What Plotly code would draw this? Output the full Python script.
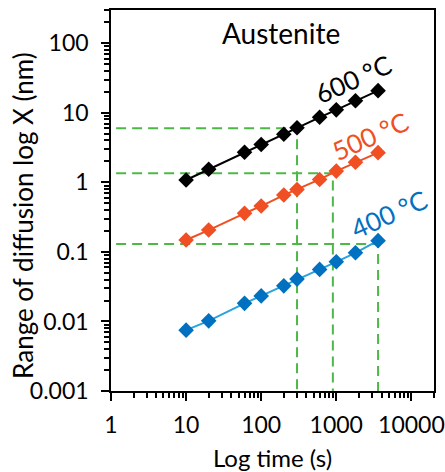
import math
import plotly.graph_objects as go

time_s = [10, 20, 60, 100, 200, 300, 600, 1000, 1800, 3600]
x600 = [1.08, 1.54, 2.7, 3.5, 4.9, 6.1, 8.6, 11.0, 14.9, 20.8]
x500 = [0.148, 0.206, 0.358, 0.456, 0.656, 0.79, 1.10, 1.45, 1.94, 2.67]
x400 = [0.0075, 0.0102, 0.0182, 0.0233, 0.0325, 0.0406, 0.056, 0.072, 0.097, 0.145]

# guide lines (time, range)
guide_times = [300, 900, 3600]
guide_values = [6.0, 1.35, 0.13]
guide_x_start = 1.17
y_bottom = 0.001

y_tickvals = [0.001, 0.01, 0.1, 1, 10, 100]
y_ticktext = ["0.001", "0.01", "0.1", "1", "10", "100"]
x_tickvals = [1, 10, 100, 1000, 10000]
x_ticktext = ["1", "10", "100", "1000", "10000"]

FONT = "Lato"
GREEN = "#4DB848"

fig = go.Figure()

# green dashed guides
for t, v in zip(guide_times, guide_values):
    fig.add_trace(go.Scatter(x=[guide_x_start, t, t], y=[v, v, y_bottom], mode="lines",
                             line=dict(color=GREEN, width=2, dash="10px,6px"),
                             showlegend=False, hoverinfo="skip"))

series = [
    (x600, "black", "black"),
    (x500, "#F04E23", "#F04E23"),
    (x400, "#29A3DD", "#0070C0"),
]
for vals, lc, mc in series:
    fig.add_trace(go.Scatter(x=time_s, y=vals, mode="lines+markers",
                             line=dict(color=lc, width=2),
                             marker=dict(symbol="diamond", size=12, color=mc),
                             showlegend=False))

fig.add_annotation(x=math.log10(186), y=math.log10(140), text="Austenite", showarrow=False,
                   font=dict(family=FONT, size=28, color="black"))
fig.add_annotation(x=3.22, y=1.49, text="600 °C", showarrow=False, textangle=-24,
                   font=dict(family=FONT, size=26, color="black"))
fig.add_annotation(x=3.45, y=0.67, text="500 °C", showarrow=False, textangle=-24,
                   font=dict(family=FONT, size=26, color="#F04E23"))
fig.add_annotation(x=3.70, y=-0.46, text="400 °C", showarrow=False, textangle=-24,
                   font=dict(family=FONT, size=26, color="#0070C0"))
# y-axis title
fig.add_annotation(xref="paper", yref="paper", x=-0.272, y=0.46, xanchor="center", yanchor="middle",
                   text="Range of diffusion log X (nm)",
                   showarrow=False, textangle=-90, font=dict(family=FONT, size=26, color="black"))

fig.update_xaxes(type="log", range=[0, math.log10(20000)], showline=True, linecolor="black",
                 linewidth=1.5, mirror=True, showgrid=False, zeroline=False, automargin=False,
                 ticks="outside", ticklen=8, tickwidth=1.5, tickcolor="black",
                 tickmode="array", tickvals=x_tickvals, ticktext=x_ticktext,
                 minor=dict(ticks="outside", ticklen=5, tickwidth=1.5, tickcolor="black", dtick="D1", showgrid=False),
                 tickfont=dict(family=FONT, size=23, color="black"), ticklabelstandoff=5,
                 title=dict(text="Log time (s)", font=dict(family=FONT, size=24, color="black"), standoff=14))
fig.update_yaxes(type="log", range=[-3, math.log10(300)], showline=True, linecolor="black",
                 linewidth=1.5, mirror=True, showgrid=False, zeroline=False, automargin=False,
                 ticks="outside", ticklen=8, tickwidth=1.5, tickcolor="black",
                 tickmode="array", tickvals=y_tickvals, ticktext=y_ticktext,
                 minor=dict(ticks="outside", ticklen=5, tickwidth=1.5, tickcolor="black", dtick="D1", showgrid=False),
                 tickfont=dict(family=FONT, size=23, color="black"), ticklabelstandoff=8)

fig.update_layout(width=445, height=472, margin=dict(l=111, r=11, t=10, b=81),
                  plot_bgcolor="white", paper_bgcolor="white")

fig.write_html("out.html")
